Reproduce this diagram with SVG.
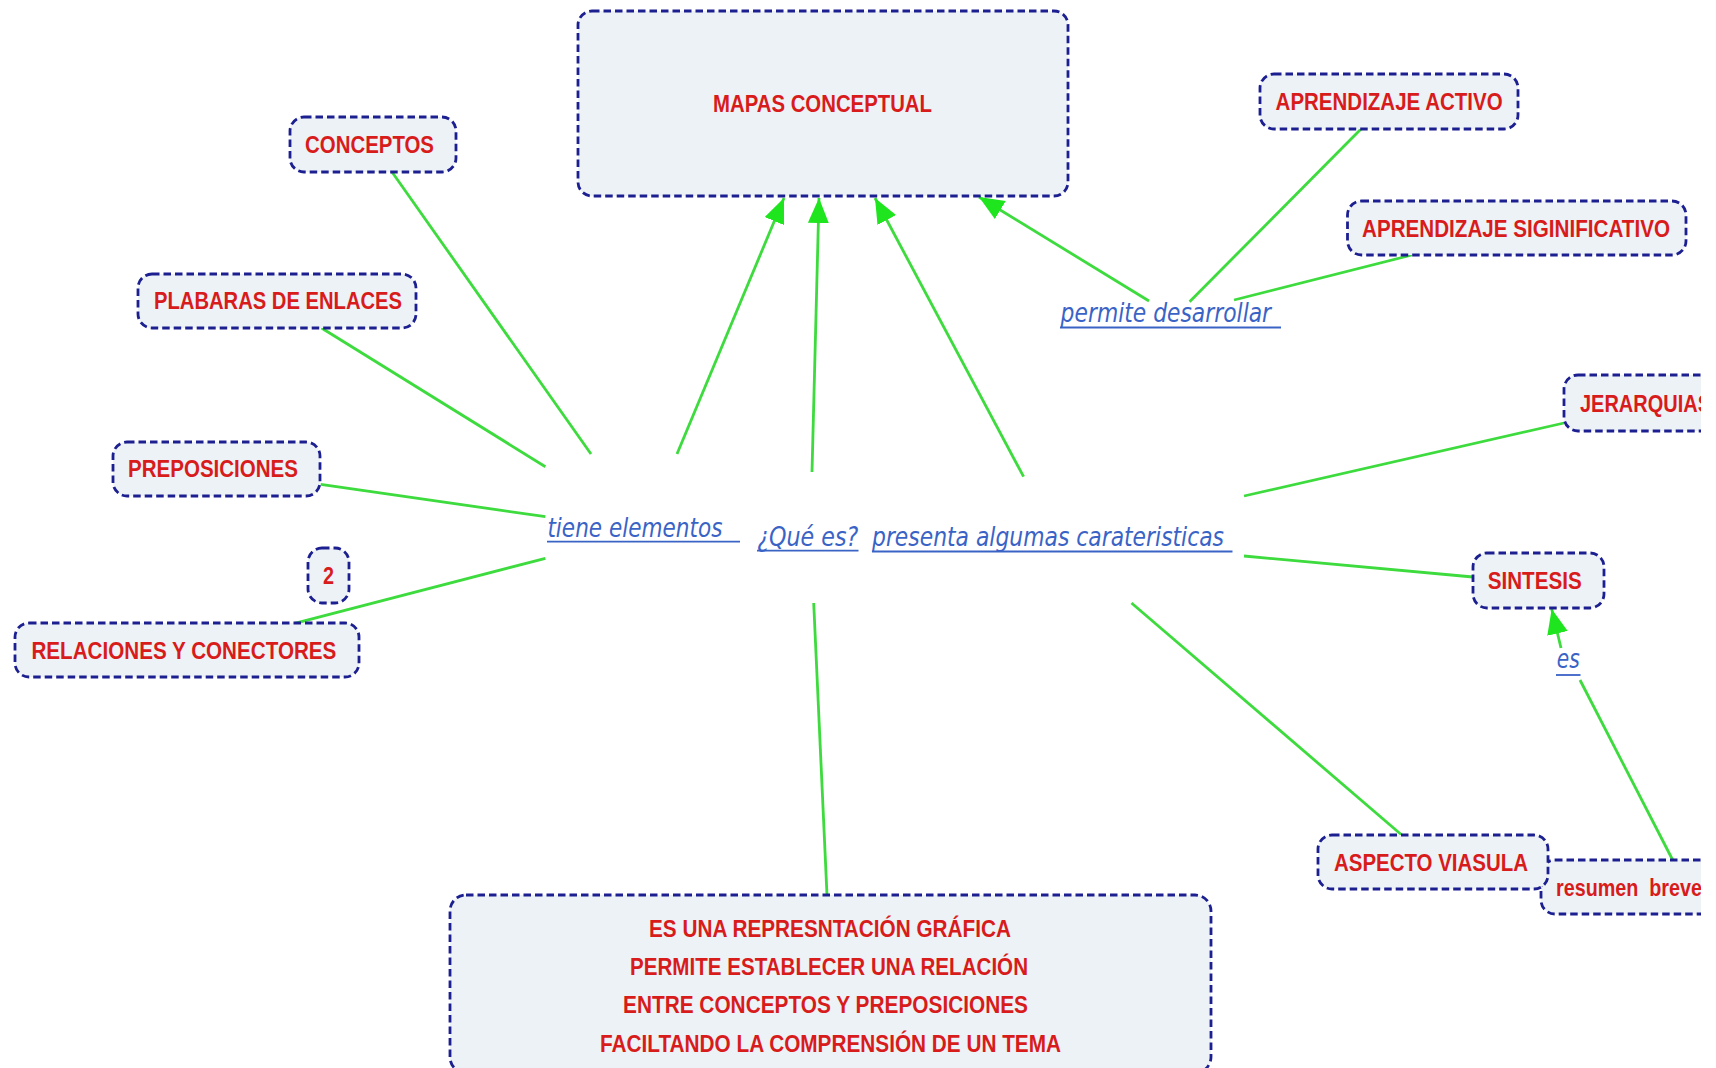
<svg xmlns="http://www.w3.org/2000/svg" width="1716" height="1068" viewBox="0 0 1716 1068">
<style>
.box{fill:#edf2f6;stroke:#1c1f90;stroke-width:2.8;stroke-dasharray:7.5 4}
.lbl{font-family:"Liberation Sans",Arial,sans-serif;font-weight:bold;font-size:24px;fill:#d81b1b}
.lnk{font-family:"DejaVu Sans",Verdana,sans-serif;font-style:italic;font-size:27px;fill:#3a63c6}
.ul{stroke:#3a63c6;stroke-width:1.8}
.con{stroke:#3ddb3d;stroke-width:2.8;fill:none}
.arr{marker-end:url(#ah)}
</style>
<defs>
<marker id="ah" markerUnits="userSpaceOnUse" markerWidth="26" markerHeight="22" refX="25" refY="10.5" orient="auto">
<path d="M0,0 L25,10.5 L0,21 z" fill="#1fe51f"/>
</marker>
<clipPath id="view"><rect x="0" y="0" width="1701" height="1068"/></clipPath>
</defs>
<rect x="0" y="0" width="1716" height="1068" fill="#ffffff"/>
<g clip-path="url(#view)">
<g id="connectors">
<line class="con" x1="392" y1="172" x2="591" y2="454"/>
<line class="con" x1="321.5" y1="328" x2="545.4" y2="466.7"/>
<line class="con" x1="320.7" y1="484.3" x2="545.4" y2="516.7"/>
<line class="con" x1="294.7" y1="623.3" x2="545.4" y2="558.3"/>
<line class="con arr" x1="677" y1="454" x2="784" y2="198"/>
<line class="con arr" x1="812" y1="472" x2="819" y2="198"/>
<line class="con arr" x1="1023.6" y1="476.7" x2="875" y2="198"/>
<line class="con arr" x1="1149" y1="301" x2="979" y2="197"/>
<line class="con" x1="1189.6" y1="301.7" x2="1361" y2="129"/>
<line class="con" x1="1234" y1="300" x2="1412" y2="255"/>
<line class="con" x1="1244" y1="496" x2="1564" y2="423"/>
<line class="con" x1="1244" y1="556" x2="1473" y2="577"/>
<line class="con" x1="1131.5" y1="603" x2="1401.7" y2="835"/>
<line class="con" x1="813.7" y1="603" x2="827" y2="895"/>
<line class="con" x1="1672.7" y1="860" x2="1580" y2="680"/>
<line class="con arr" x1="1561" y1="648" x2="1551.7" y2="609"/>
</g>
<g id="n-mapas">
<rect class="box" x="578" y="11" width="490" height="185" rx="14"/>
<text class="lbl" x="713" y="112" textLength="219" lengthAdjust="spacingAndGlyphs">MAPAS CONCEPTUAL</text>
</g>
<g id="n-conceptos">
<rect class="box" x="290" y="117" width="166" height="55" rx="14"/>
<text class="lbl" x="305" y="153" textLength="129" lengthAdjust="spacingAndGlyphs">CONCEPTOS</text>
</g>
<g id="n-plabaras">
<rect class="box" x="138" y="274" width="278" height="54" rx="14"/>
<text class="lbl" x="154" y="309" textLength="248" lengthAdjust="spacingAndGlyphs">PLABARAS DE ENLACES</text>
</g>
<g id="n-preposiciones">
<rect class="box" x="113" y="442" width="207" height="54" rx="14"/>
<text class="lbl" x="128" y="477" textLength="170" lengthAdjust="spacingAndGlyphs">PREPOSICIONES</text>
</g>
<g id="n-2">
<rect class="box" x="308" y="548" width="41" height="55" rx="14"/>
<text class="lbl" x="328.5" y="584" text-anchor="middle" textLength="11" lengthAdjust="spacingAndGlyphs">2</text>
</g>
<g id="n-relaciones">
<rect class="box" x="15" y="623" width="344" height="54" rx="14"/>
<text class="lbl" x="31.4" y="659" textLength="305" lengthAdjust="spacingAndGlyphs">RELACIONES Y CONECTORES</text>
</g>
<g id="n-activo">
<rect class="box" x="1260" y="74" width="258" height="55" rx="14"/>
<text class="lbl" x="1275.6" y="110" textLength="227" lengthAdjust="spacingAndGlyphs">APRENDIZAJE ACTIVO</text>
</g>
<g id="n-significativo">
<rect class="box" x="1347.5" y="201" width="338.5" height="54" rx="14"/>
<text class="lbl" x="1362" y="237" textLength="308" lengthAdjust="spacingAndGlyphs">APRENDIZAJE SIGINIFICATIVO</text>
</g>
<g id="n-jerarquias">
<rect class="box" x="1564" y="375" width="200" height="56" rx="14"/>
<text class="lbl" x="1580" y="412" textLength="131" lengthAdjust="spacingAndGlyphs">JERARQUIAS</text>
</g>
<g id="n-sintesis">
<rect class="box" x="1473" y="553" width="131" height="55" rx="14"/>
<text class="lbl" x="1487.7" y="589" textLength="94" lengthAdjust="spacingAndGlyphs">SINTESIS</text>
</g>
<g id="n-resumen">
<rect class="box" x="1541" y="860" width="200" height="54" rx="14"/>
<text class="lbl" x="1556" y="896" textLength="146" lengthAdjust="spacingAndGlyphs" xml:space="preserve">resumen  breve</text>
</g>
<g id="n-aspecto">
<rect class="box" x="1318" y="835" width="230" height="54" rx="14"/>
<text class="lbl" x="1334" y="871" textLength="194" lengthAdjust="spacingAndGlyphs">ASPECTO VIASULA</text>
</g>
<g id="n-definicion">
<rect class="box" x="450" y="895" width="761" height="178" rx="16"/>
<text class="lbl" x="830" y="937" text-anchor="middle" textLength="362" lengthAdjust="spacingAndGlyphs">ES UNA REPRESNTACIÓN GRÁFICA</text>
<text class="lbl" x="829" y="975" text-anchor="middle" textLength="398" lengthAdjust="spacingAndGlyphs">PERMITE ESTABLECER UNA RELACIÓN</text>
<text class="lbl" x="825.5" y="1013.3" text-anchor="middle" textLength="405" lengthAdjust="spacingAndGlyphs">ENTRE CONCEPTOS Y PREPOSICIONES</text>
<text class="lbl" x="830.5" y="1051.7" text-anchor="middle" textLength="461" lengthAdjust="spacingAndGlyphs">FACILTANDO LA COMPRENSIÓN DE UN TEMA</text>
</g>
<g id="l-tiene">
<text class="lnk" x="547.4" y="536.7" textLength="175" lengthAdjust="spacingAndGlyphs">tiene elementos</text>
<line class="ul" x1="547" y1="541.7" x2="740" y2="541.7"/>
</g>
<g id="l-que">
<text class="lnk" x="757.3" y="546" textLength="101" lengthAdjust="spacingAndGlyphs">¿Qué es?</text>
<line class="ul" x1="757" y1="550.7" x2="858.5" y2="550.7"/>
</g>
<g id="l-presenta">
<text class="lnk" x="872" y="546" textLength="352" lengthAdjust="spacingAndGlyphs">presenta algumas carateristicas</text>
<line class="ul" x1="872" y1="551.5" x2="1232.5" y2="551.5"/>
</g>
<g id="l-permite">
<text class="lnk" x="1060.6" y="321.7" textLength="210.5" lengthAdjust="spacingAndGlyphs">permite desarrollar</text>
<line class="ul" x1="1060" y1="327.5" x2="1281" y2="327.5"/>
</g>
<g id="l-es">
<text class="lnk" x="1556.7" y="668" textLength="23" lengthAdjust="spacingAndGlyphs">es</text>
<line class="ul" x1="1556" y1="675" x2="1580.5" y2="675"/>
</g>
</g>
</svg>
